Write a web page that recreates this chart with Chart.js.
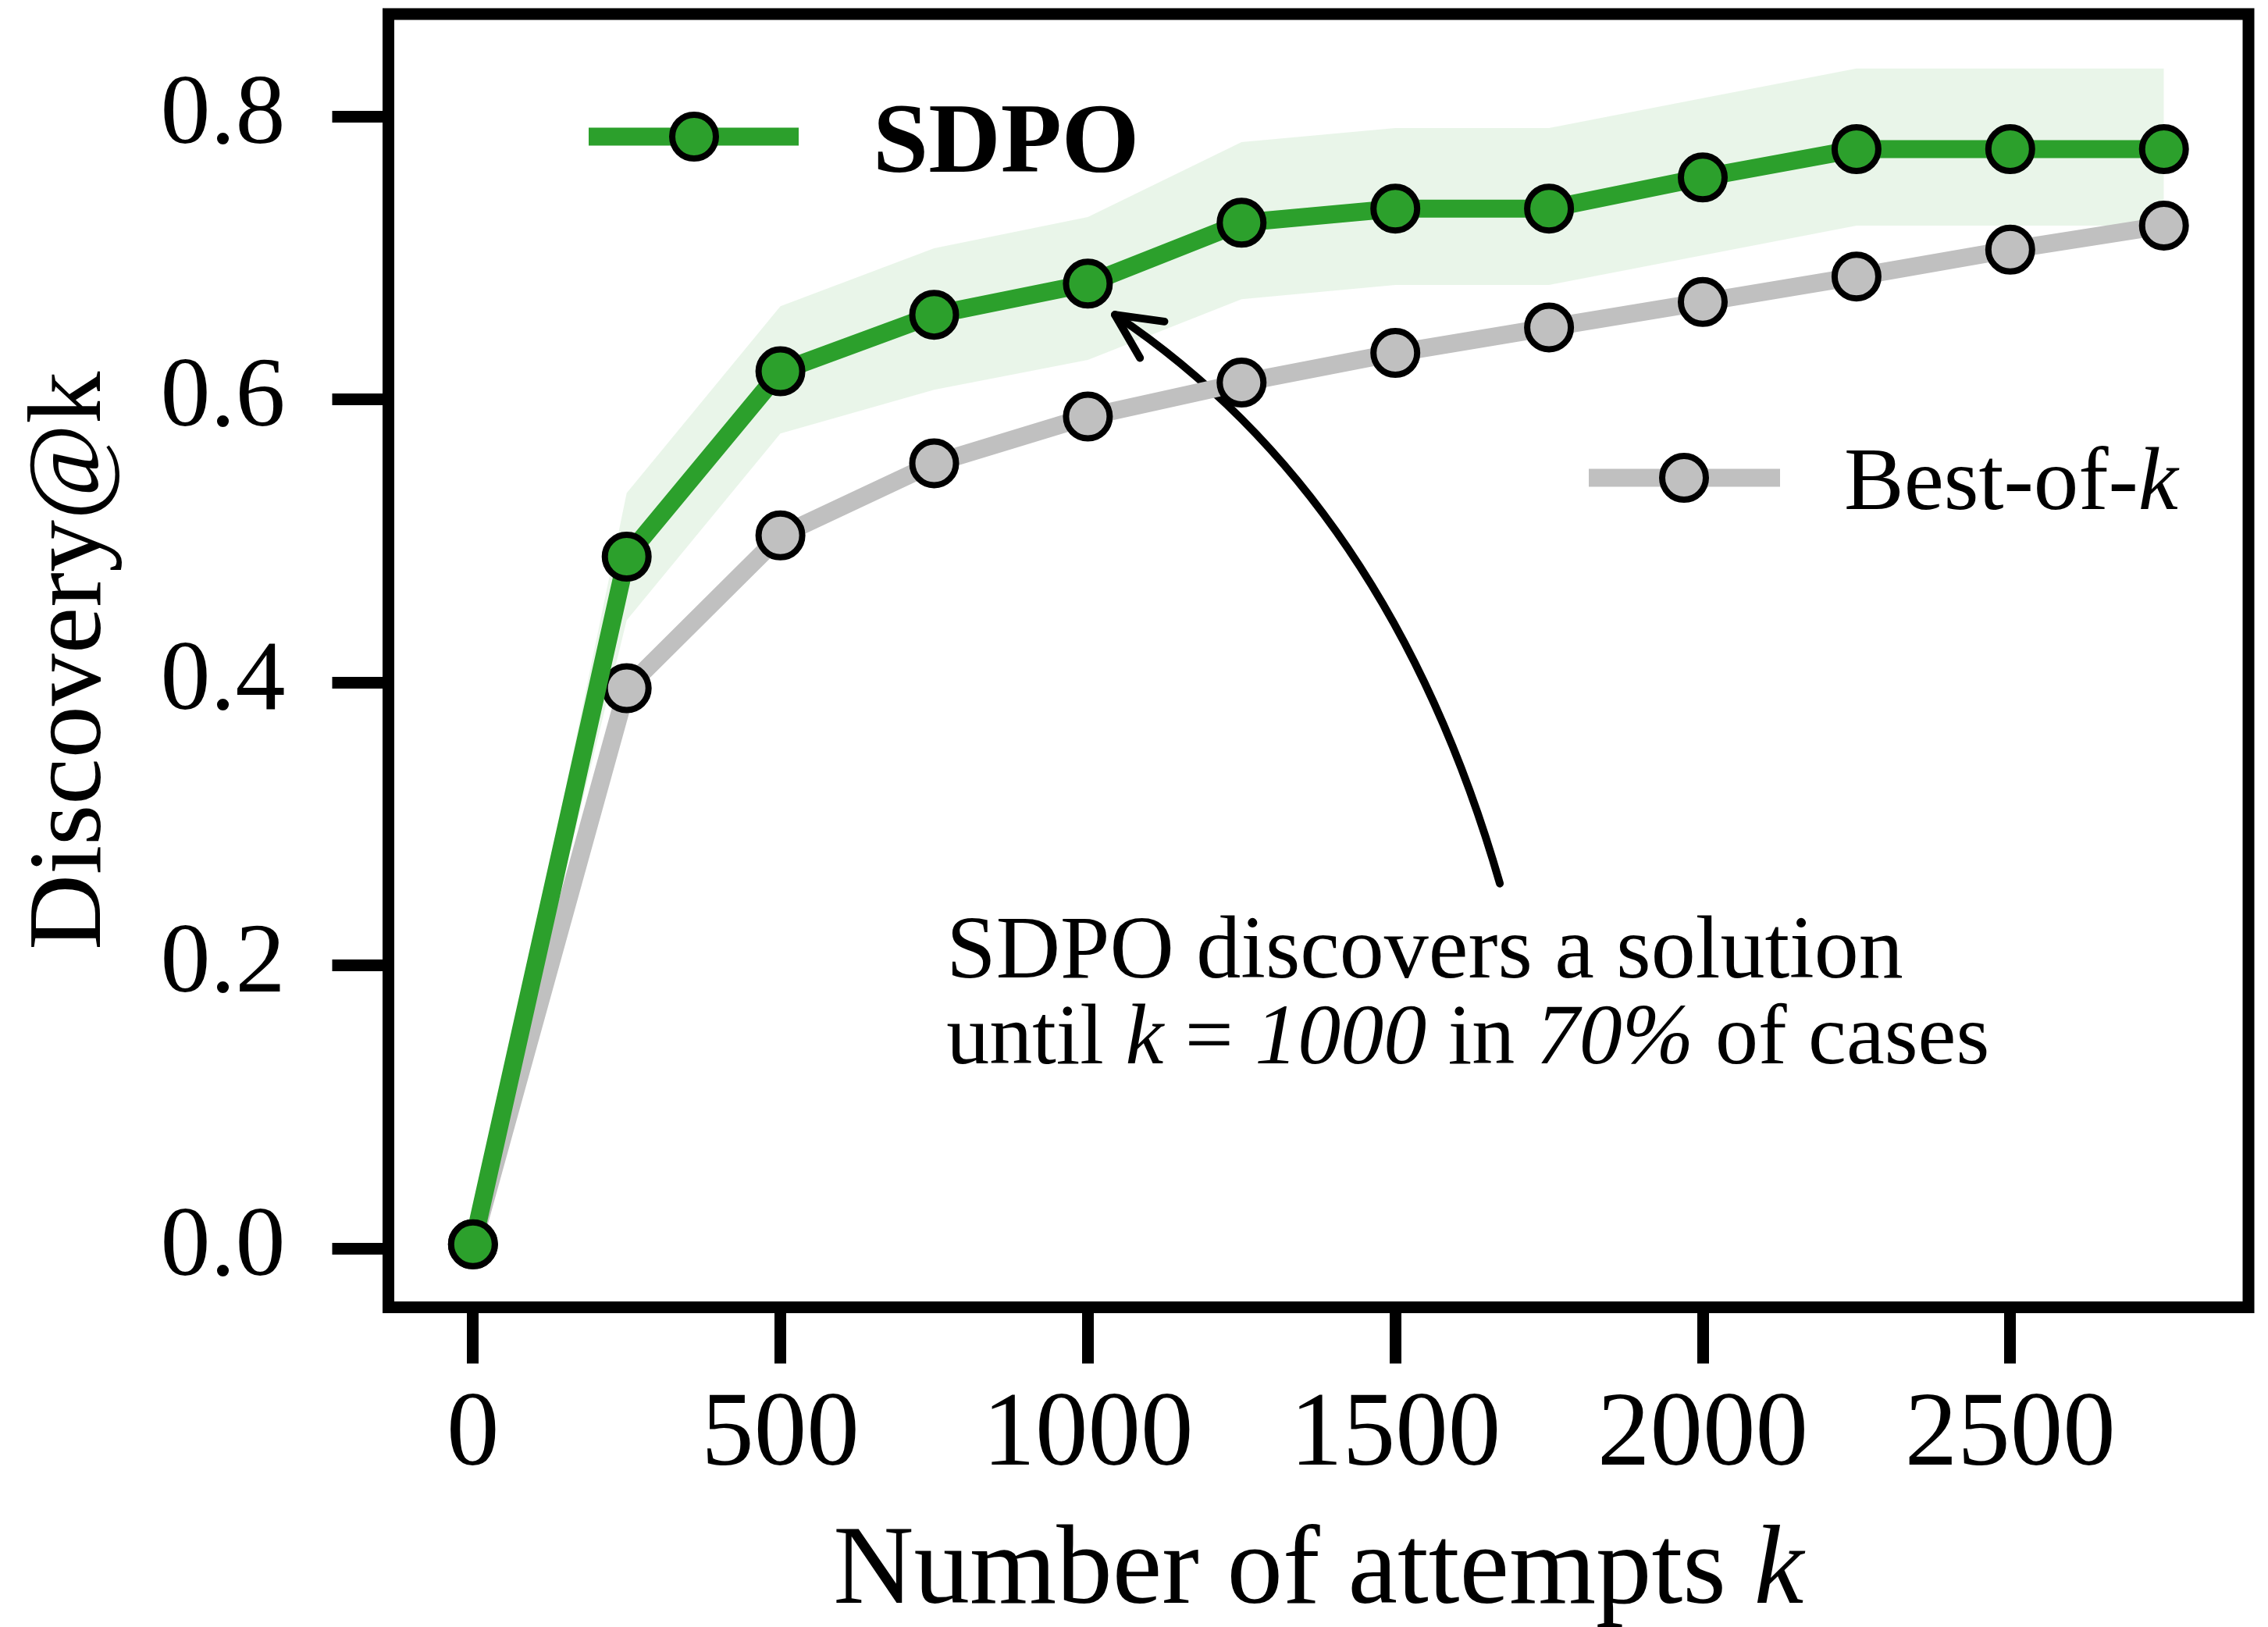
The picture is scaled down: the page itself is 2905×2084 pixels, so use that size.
<!DOCTYPE html>
<html>
<head>
<title>Discovery@k</title>
<script src="https://cdn.jsdelivr.net/npm/chart.js"></script>
<style>
  html, body { margin: 0; padding: 0; background: #fff; overflow: hidden; }
  canvas { display: block; }
</style>
</head>
<body>

<canvas id="myChart" width="2905" height="2084"></canvas>

<script>
  // Werte
  const attempts = [0, 250, 500, 750, 1000, 1250, 1500, 1750, 2000, 2250, 2500, 2750];
  const sdpo     = [0.003, 0.489, 0.620, 0.660, 0.682, 0.725, 0.735, 0.735, 0.757, 0.777, 0.777, 0.777];
  const sdpoLow  = [0.000, 0.444, 0.576, 0.607, 0.628, 0.671, 0.681, 0.681, 0.702, 0.723, 0.723, 0.723];
  const sdpoHigh = [0.008, 0.534, 0.666, 0.707, 0.729, 0.782, 0.792, 0.792, 0.813, 0.834, 0.834, 0.834];
  const bestOfK  = [0.003, 0.396, 0.504, 0.555, 0.588, 0.612, 0.633, 0.651, 0.669, 0.687, 0.706, 0.723];

  const xTicks = [0, 500, 1000, 1500, 2000, 2500];
  const yTicks = [0.0, 0.2, 0.4, 0.6, 0.8];

  const GREEN = '#2ca02c';
  const GRAY = '#c0c0c0';
  const SERIF = '"Liberation Serif", "DejaVu Serif", serif';

  const pts = arr => arr.map((v, i) => ({ x: attempts[i], y: v }));

  // Text aus mehreren Stücken (normal / kursiv / fett)
  function drawParts(ctx, parts, x, y, size, align) {
    const widths = parts.map(([t, s]) => {
      ctx.font = `${s} ${size}px ${SERIF}`;
      return ctx.measureText(t).width;
    });
    const total = widths.reduce((a, b) => a + b, 0);
    let cx = align === 'center' ? x - total / 2 : x;
    ctx.textAlign = 'left';
    ctx.textBaseline = 'alphabetic';
    ctx.fillStyle = '#000';
    parts.forEach(([t, s], i) => {
      ctx.font = `${s} ${size}px ${SERIF}`;
      ctx.fillText(t, cx, y);
      cx += widths[i];
    });
  }

  function legendEntry(ctx, x1, x2, y, color, mx) {
    ctx.save();
    ctx.strokeStyle = color;
    ctx.lineWidth = 23;
    ctx.lineCap = 'butt';
    ctx.beginPath();
    ctx.moveTo(x1, y);
    ctx.lineTo(x2, y);
    ctx.stroke();
    ctx.beginPath();
    ctx.arc(mx, y, 28, 0, Math.PI * 2);
    ctx.fillStyle = color;
    ctx.fill();
    ctx.lineWidth = 8;
    ctx.strokeStyle = '#000';
    ctx.stroke();
    ctx.restore();
  }

  const decorations = {
    id: 'decorations',
    beforeDatasetsDraw(chart) {
      // Pfeil zur Anmerkung
      const { ctx, scales: { x, y } } = chart;
      const p0 = [x.getPixelForValue(1670), y.getPixelForValue(0.258)];
      const c  = [x.getPixelForValue(1490), y.getPixelForValue(0.530)];
      const p2 = [x.getPixelForValue(1044), y.getPixelForValue(0.660)];
      ctx.save();
      ctx.strokeStyle = '#000';
      ctx.lineWidth = 10;
      ctx.lineCap = 'round';
      ctx.lineJoin = 'round';
      ctx.beginPath();
      ctx.moveTo(p0[0], p0[1]);
      ctx.quadraticCurveTo(c[0], c[1], p2[0], p2[1]);
      ctx.stroke();
      const ang = Math.atan2(c[1] - p2[1], c[0] - p2[0]);
      const len = 64, spread = 26 * Math.PI / 180;
      ctx.beginPath();
      ctx.moveTo(p2[0] + len * Math.cos(ang - spread), p2[1] + len * Math.sin(ang - spread));
      ctx.lineTo(p2[0], p2[1]);
      ctx.lineTo(p2[0] + len * Math.cos(ang + spread), p2[1] + len * Math.sin(ang + spread));
      ctx.stroke();
      ctx.restore();
    },
    afterDraw(chart) {
      const { ctx, chartArea: a, scales: { x, y } } = chart;
      ctx.save();
      // Rahmen
      ctx.strokeStyle = '#000';
      ctx.lineWidth = 15;
      ctx.lineJoin = 'miter';
      ctx.strokeRect(a.left, a.top, a.right - a.left, a.bottom - a.top);

      // Legenden
      legendEntry(ctx, 754, 1023, 175, GREEN, 889);
      drawParts(ctx, [['SDPO', 'bold']], 1118, 220, 128, 'left');
      legendEntry(ctx, 2035, 2280, 612, GRAY, 2157);
      drawParts(ctx, [['Best-of-', 'normal'], ['k', 'italic']], 2362, 652, 115, 'left');

      // Anmerkung
      const nx = x.getPixelForValue(770);
      drawParts(ctx, [['SDPO discovers a solution', 'normal']], nx, y.getPixelForValue(0.1914), 114, 'left');
      drawParts(ctx, [
        ['until ', 'normal'], ['k', 'italic'], [' = ', 'normal'], ['1000', 'italic'],
        [' in ', 'normal'], ['70%', 'italic'], [' of cases', 'normal']
      ], nx, y.getPixelForValue(0.1308), 110, 'left');

      // x-Achsentitel
      drawParts(ctx, [['Number of attempts ', 'normal'], ['k', 'italic']],
        (a.left + a.right) / 2, 2053, 143, 'center');
      ctx.restore();
    }
  };

  const ctx = document.getElementById('myChart').getContext('2d');
  const myChart = new Chart(ctx, {
    type: 'line',
    data: {
      datasets: [
        {
          label: 'lower',
          data: pts(sdpoLow),
          borderWidth: 0,
          pointRadius: 0,
          fill: false,
          order: 3
        },
        {
          label: 'upper',
          data: pts(sdpoHigh),
          borderWidth: 0,
          pointRadius: 0,
          fill: '-1',
          backgroundColor: 'rgba(44, 160, 44, 0.1)',
          order: 3
        },
        {
          label: 'Best-of-k',
          data: pts(bestOfK),
          borderColor: GRAY,
          borderWidth: 23,
          borderJoinStyle: 'round',
          pointRadius: 28,
          pointBorderWidth: 8,
          pointBackgroundColor: GRAY,
          pointBorderColor: '#000',
          fill: false,
          order: 2
        },
        {
          label: 'SDPO',
          data: pts(sdpo),
          borderColor: GREEN,
          borderWidth: 23,
          borderJoinStyle: 'round',
          pointRadius: 28,
          pointBorderWidth: 8,
          pointBackgroundColor: GREEN,
          pointBorderColor: '#000',
          fill: false,
          order: 1
        }
      ]
    },
    options: {
      responsive: false,
      devicePixelRatio: 1,
      animation: false,
      layout: { autoPadding: false, padding: { top: 18, right: 25, left: 0, bottom: 0 } },
      plugins: {
        legend: { display: false },
        tooltip: { enabled: false },
        filler: { drawTime: 'beforeDatasetsDraw' }
      },
      scales: {
        x: {
          type: 'linear',
          min: -137.5,
          max: 2887.5,
          afterBuildTicks: s => { s.ticks = xTicks.map(v => ({ value: v })); },
          afterFit: s => { s.height = 409.5; s.paddingLeft = 0; s.paddingRight = 0; },
          grid: { drawOnChartArea: false, drawTicks: true, tickLength: 72, tickWidth: 15, tickColor: '#000', color: '#000' },
          border: { display: false },
          ticks: {
            color: '#000',
            padding: 13,
            maxRotation: 0,
            font: { family: SERIF, size: 135 },
            callback: v => String(v)
          }
        },
        y: {
          min: -0.0415,
          max: 0.8725,
          afterBuildTicks: s => { s.ticks = yTicks.map(v => ({ value: v })); },
          afterFit: s => { s.width = 497.5; s.paddingTop = 0; s.paddingBottom = 0; },
          grid: { drawOnChartArea: false, drawTicks: true, tickLength: 72, tickWidth: 15, tickColor: '#000', color: '#000' },
          border: { display: false },
          ticks: {
            color: '#000',
            padding: 60,
            font: { family: SERIF, size: 128 },
            callback: v => v.toFixed(1)
          },
          title: {
            display: true,
            text: 'Discovery@k',
            color: '#000',
            padding: { top: 12, bottom: 0 },
            font: { family: SERIF, size: 134, lineHeight: 1.2 }
          }
        }
      }
    },
    plugins: [decorations]
  });
</script>

</body>
</html>
